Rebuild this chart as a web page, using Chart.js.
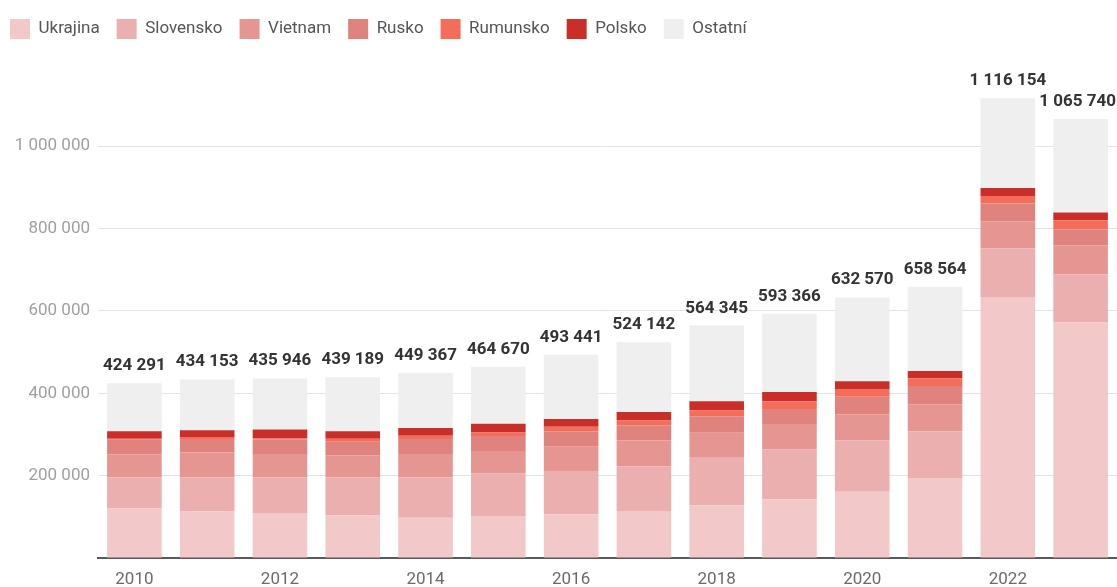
<!DOCTYPE html>
<html lang="cs">
<head>
<meta charset="utf-8">
<title>Cizinci v ČR</title>
<script src="https://cdn.jsdelivr.net/npm/chart.js@4/dist/chart.umd.min.js"></script>
<style>
  body { margin: 0; background: #fff; }
  #wrap { width: 1117px; height: 587px; position: relative; overflow: hidden; }
</style>
</head>
<body>
<div id="wrap"><canvas id="chart"></canvas></div>
<script>
// Roky a hodnoty
const years = ['2010', '2011', '2012', '2013', '2014', '2015', '2016', '2017', '2018', '2019', '2020', '2021', '2022', '2023'];

const ukrajina  = [121000, 113000, 109000, 103000, 98000, 102000, 106000, 114000, 128000, 142500, 161000, 194000, 634000, 572000];
const slovensko = [75000, 82500, 86700, 93000, 98000, 103600, 105000, 109000, 117000, 121000, 124800, 114000, 117500, 117000];
const vietnam   = [56000, 60700, 56600, 53400, 56600, 54000, 59000, 62400, 59000, 62000, 63000, 65500, 65500, 69700];
const rusko     = [35000, 33000, 35700, 33000, 36400, 36400, 37400, 37100, 40500, 36400, 42700, 44400, 43700, 39600];
const rumunsko  = [2500, 4800, 2400, 7300, 8000, 9000, 11200, 11400, 13800, 18700, 18700, 18700, 18400, 21800];
const polsko    = [18000, 16300, 21800, 18000, 18700, 21000, 18700, 20900, 22600, 22600, 18700, 17700, 19400, 18700];
const ostatni   = [116791, 123853, 123746, 131489, 133667, 138670, 156141, 169342, 183445, 190166, 203670, 204264, 217654, 226940];

// Celkové součty nad sloupci
const totals = [424291, 434153, 435946, 439189, 449367, 464670, 493441, 524142, 564345, 593366, 632570, 658564, 1116154, 1065740];

// Hodnoty na ose y
const yTicks = [0, 200000, 400000, 600000, 800000, 1000000];

// Formát čísla s mezerou jako oddělovačem tisíců
function fmt(v) {
    return String(v).replace(/\B(?=(\d{3})+(?!\d))/g, ' ');
}

// Plugin pro popisky součtů nad sloupci
const totalsPlugin = {
    id: 'totals',
    afterDatasetsDraw(chart) {
        const ctx = chart.ctx;
        const meta = chart.getDatasetMeta(0);
        const yScale = chart.scales.y;
        ctx.save();
        ctx.font = 'bold 17px Roboto';
        ctx.fillStyle = '#333';
        ctx.textAlign = 'center';
        ctx.textBaseline = 'alphabetic';
        totals.forEach((t, i) => {
            const text = fmt(t);
            const w = ctx.measureText(text).width;
            let x = meta.data[i].x;
            if (x + w / 2 > chart.width - 1) x = chart.width - 1 - w / 2;
            const y = yScale.getPixelForValue(t) - 13;
            ctx.fillText(text, x, y);
        });
        ctx.restore();
    }
};

const ctx = document.getElementById('chart').getContext('2d');
const chart = new Chart(ctx, {
    type: 'bar',
    data: {
        labels: years,
        datasets: [
            { label: 'Ukrajina',  data: ukrajina,  backgroundColor: '#f2c8c8' },
            { label: 'Slovensko', data: slovensko, backgroundColor: '#ebafaf' },
            { label: 'Vietnam',   data: vietnam,   backgroundColor: '#e59692' },
            { label: 'Rusko',     data: rusko,     backgroundColor: '#e0837e' },
            { label: 'Rumunsko',  data: rumunsko,  backgroundColor: '#f46d5a' },
            { label: 'Polsko',    data: polsko,    backgroundColor: '#c92e28' },
            { label: 'Ostatní',   data: ostatni,   backgroundColor: '#efefef' }
        ]
    },
    options: {
        responsive: true,
        maintainAspectRatio: false,
        animation: false,
        layout: { padding: { top: 2, left: -7, right: 0, bottom: 0 } },
        datasets: {
            bar: { categoryPercentage: 1, barPercentage: 0.75 }
        },
        plugins: {
            legend: {
                display: true,
                position: 'top',
                align: 'start',
                labels: {
                    boxWidth: 20,
                    boxHeight: 20,
                    padding: 17,
                    color: '#555',
                    font: { family: 'Roboto', size: 17 }
                }
            },
            tooltip: { enabled: false }
        },
        scales: {
            x: {
                stacked: true,
                grid: { display: false, drawTicks: false },
                border: { display: true, color: '#595959', width: 2 },
                ticks: {
                    color: '#6a6a6a',
                    padding: 12,
                    maxRotation: 0,
                    autoSkip: false,
                    font: { family: 'Roboto', size: 17 },
                    callback: function (val, i) { return i % 2 === 0 ? years[i] : ''; }
                },
                afterFit: s => { s.height = 29; }
            },
            y: {
                stacked: true,
                min: 0,
                max: 1236000,
                border: { display: false },
                afterBuildTicks: s => { s.ticks = yTicks.map(v => ({ value: v })); },
                grid: {
                    tickLength: 0,
                    color: c => c.tick.value === 0 ? 'rgba(0,0,0,0)' : '#e3e3e3'
                },
                ticks: {
                    padding: 8,
                    color: '#a0a0a0',
                    font: { family: 'Roboto', size: 17 },
                    callback: v => v === 0 ? '' : fmt(v)
                },
                afterFit: s => { s.width = 105; }
            }
        }
    },
    plugins: [totalsPlugin]
});
</script>
</body>
</html>
